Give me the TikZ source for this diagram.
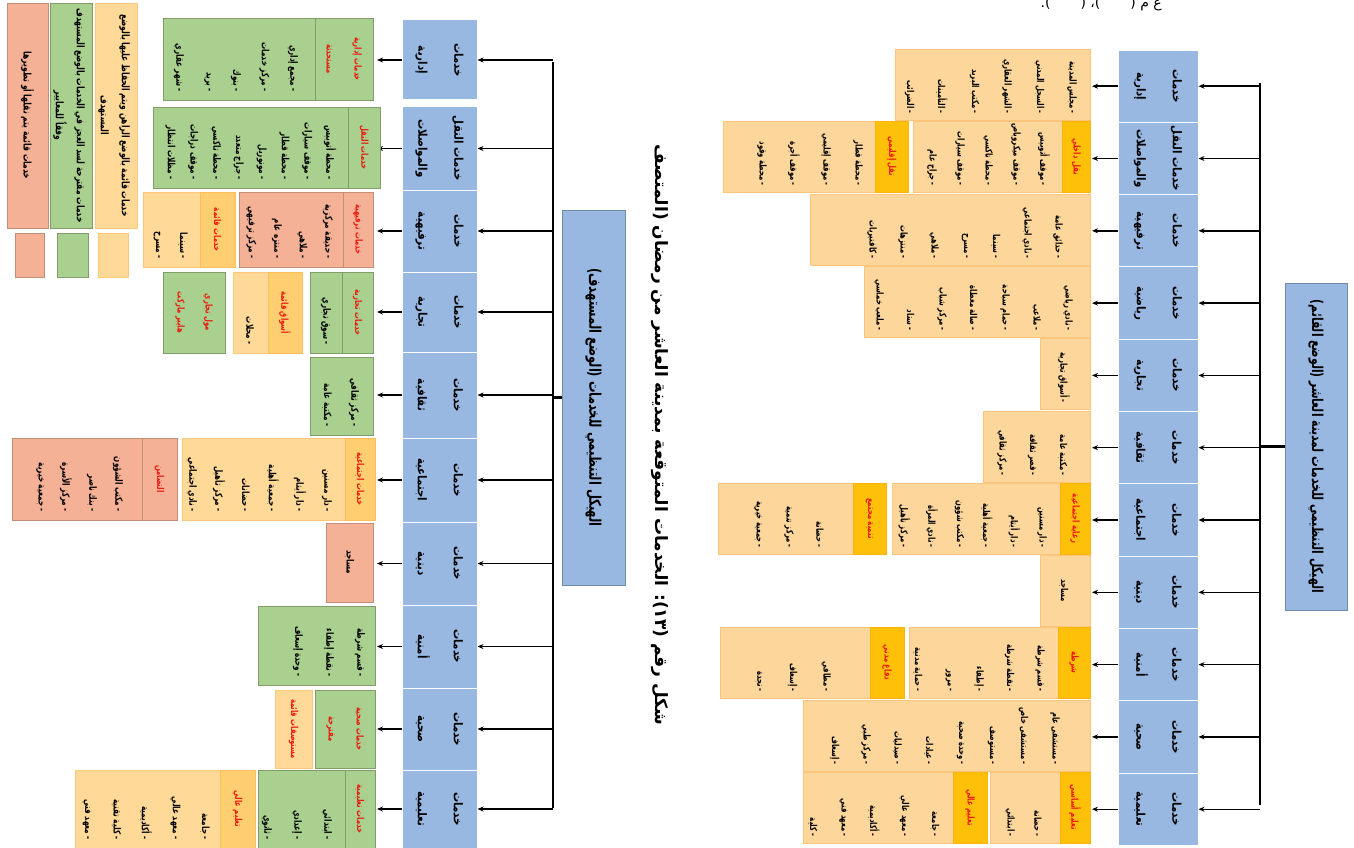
\documentclass[tikz,border=0pt]{standalone}
\usepackage{fontspec}
\usetikzlibrary{arrows.meta,positioning}
\newfontfamily\arabicfont[Script=Arabic,FakeStretch=0.85]{DejaVu Sans}
\newfontfamily\arabicnarrow[Script=Arabic,FakeStretch=0.72]{DejaVu Sans}
\newfontfamily\arabicplain[Script=Arabic]{DejaVu Sans}
\TeXXeTstate=1
\newcommand{\rl}[1]{\beginR#1\endR}

\definecolor{catblue}{RGB}{152,184,225}
\definecolor{exorange}{RGB}{252,214,155}
\definecolor{exhead}{RGB}{255,192,10}
\definecolor{tgreen}{RGB}{169,208,142}
\definecolor{tsalmon}{RGB}{244,177,150}
\definecolor{torange}{RGB}{255,217,152}
\definecolor{tohead}{RGB}{255,206,112}
\definecolor{redtxt}{RGB}{235,25,15}

\tikzset{
  catbox/.style={rotate=-90, fill=catblue, draw=white, line width=1pt, inner sep=0pt, align=center,
    font=\arabicfont\bfseries\fontsize{12}{36}\selectfont},
  titlebox/.style={rotate=-90, fill=catblue, draw=catblue!75!black, line width=0.4pt, inner sep=0pt,
    font=\arabicnarrow\bfseries\fontsize{15}{18}\selectfont},
  itm/.style={rotate=-90, anchor=east, inner sep=0pt, font=\arabicnarrow\bfseries\fontsize{9.5}{11}\selectfont},
  itmL/.style={itm, font=\arabicnarrow\bfseries\fontsize{10}{12}\selectfont},
  hdr/.style={rotate=-90, inner sep=0pt, align=center, text=redtxt,
    font=\arabicnarrow\bfseries\fontsize{9.5}{28}\selectfont},
  lgtext/.style={rotate=-90, inner sep=0pt, align=center, font=\arabicnarrow\bfseries\fontsize{10.5}{21}\selectfont},
  arr/.style={-{Stealth[length=6pt,width=5pt]}, line width=1.4pt},
  bus/.style={line width=2.8pt},
  exbox/.style={fill=exorange, draw=exorange!80!orange, line width=0.5pt},
  exhbox/.style={fill=exhead, draw=exhead!80!orange, line width=0.5pt},
  gbox/.style={fill=tgreen, draw=tgreen!75!black, line width=0.4pt},
  sbox/.style={fill=tsalmon, draw=tsalmon!80!black, line width=0.4pt},
  obox/.style={fill=torange, draw=torange!80!orange, line width=0.4pt},
  ohbox/.style={fill=tohead, draw=tohead!80!orange, line width=0.4pt},
}
\newcommand{\bx}[5]{\path[#1] (#2,#3) rectangle (#4,#5);}
\newcommand{\items}[6][itm]{\foreach \itx [count=\k] in {#6}{\node[#1] (#2\k) at ({#3-(\k-1)*#4},#5) {\itx};}}

\begin{document}
\begin{tikzpicture}[x=1pt, y=-1pt]
\useasboundingbox (0,0) rectangle (1354,848);

% line of page text above the figure (cut)
\node[anchor=base east, inner sep=0pt, font=\arabicplain\fontsize{14}{16}\selectfont] (frag) at (1162,8) {\rl{ع م (\hspace{30pt})، (\hspace{30pt}).}};

% ---- existing state (right tree) ----
\node[titlebox, minimum width=327, minimum height=62] (rtitle) at (1316,446.5) {\rl{الهيكل التنظيمي للخدمات لمدينة العاشر (الوضع القائم)}};
\coordinate (rbus) at (1260,83);
\coordinate (rbusE) at (1260,805);
\coordinate (rrow) at (1092,0);
\draw[bus] (rbus) -- (rbusE);
\draw[bus] (rtitle.south) -- (rtitle.south -| rbus);
\foreach \a/\b [count=\i] in {خدمات/إدارية, \rl{خدمات النقل}/والمواصلات, خدمات/ترفيهية, خدمات/رياضية, خدمات/تجارية, خدمات/ثقافية, خدمات/اجتماعية, خدمات/دينية, خدمات/أمنية, خدمات/صحية, خدمات/تعليمية}{
  \node[catbox, minimum width=72.3, minimum height=80] (rc\i) at (1158,{86.2+72.3*(\i-1)}) {\rl{\a}\\\rl{\b}};
  \draw[arr] (rbus |- rc\i) -- (rc\i.north);
  \draw[arr] (rc\i.south) -- (rc\i.south -| rrow);
}

% rows of the right tree
\bx{exbox}{895}{49}{1090}{120}
\items{r1i}{1072}{32.5}{114}{\rl{- مجلس المدينة}, \rl{- السجل المدني}, \rl{- الشهر العقاري}, \rl{- مكتب البريد}, \rl{- التأمينات}, \rl{- الضرائب}}

\bx{exbox}{913}{121}{1062}{192}
\bx{exhbox}{1062}{121}{1090}{192}
\node[hdr] (r2h) at (1076,156.5) {\rl{نقل داخلي}};
\items{r2i}{1044}{28}{186}{\rl{- موقف أتوبيس}, \rl{- موقف ميكروباص}, \rl{- محطة تاكسي}, \rl{- موقف سيارات}, \rl{- جراج عام}}
\bx{exbox}{723}{121}{875}{192}
\bx{exhbox}{875}{121}{908}{192}
\node[hdr] (r2k) at (891.5,156.5) {\rl{نقل إقليمي}};
\items{r2j}{858}{32}{186}{\rl{- محطة قطار}, \rl{- موقف إقليمي}, \rl{- موقف أجرة}, \rl{- محطة وقود}}

\bx{exbox}{810}{194}{1090}{265}
\items{r3i}{1058}{31}{259}{\rl{- حدائق عامة}, \rl{- نادي اجتماعي}, \rl{- سينما}, \rl{- مسرح}, \rl{- ملاهي}, \rl{- منتزهات}, \rl{- كافتيريات}}

\bx{exbox}{864}{266}{1090}{337}
\items{r4i}{1068}{31.5}{331}{\rl{- نادي رياضي}, \rl{- ملاعب}, \rl{- حمام سباحة}, \rl{- صالة مغطاة}, \rl{- مركز شباب}, \rl{- ستاد}, \rl{- ملعب خماسي}}

\bx{exbox}{1040}{338}{1090}{409}
\items{r5i}{1064}{0}{403}{\rl{- أسواق تجارية}}

\bx{exbox}{983}{411}{1090}{482}
\items{r6i}{1063}{30.5}{476}{\rl{- مكتبة عامة}, \rl{- قصر ثقافة}, \rl{- مركز ثقافي}}

\bx{exbox}{892}{483}{1060}{554}
\bx{exhbox}{1060}{483}{1090}{554}
\node[hdr] (r7h) at (1075,518.5) {\rl{رعاية اجتماعية}};
\items{r7i}{1042}{27.5}{548}{\rl{- دار مسنين}, \rl{- دار أيتام}, \rl{- جمعية أهلية}, \rl{- مكتب شؤون}, \rl{- نادي المرأة}, \rl{- مركز تأهيل}}
\bx{exbox}{718}{483}{853}{554}
\bx{exhbox}{853}{483}{886}{554}
\node[hdr] (r7k) at (869.5,518.5) {\rl{تنمية مجتمع}};
\items{r7j}{820}{31}{548}{\rl{- حضانة}, \rl{- مركز تنمية}, \rl{- جمعية خيرية}}

\bx{exbox}{1040}{555}{1090}{626}
\node[itm, anchor=center] (r8i) at (1064,590.5) {\rl{مساجد}};

\bx{exbox}{909}{627}{1058}{698}
\bx{exhbox}{1058}{627}{1090}{698}
\node[hdr] (r9h) at (1074,662.5) {\rl{شرطة}};
\items{r9i}{1040}{30.5}{692}{\rl{- قسم شرطة}, \rl{- نقطة شرطة}, \rl{- إطفاء}, \rl{- مرور}, \rl{- حماية مدنية}}
\bx{exbox}{720}{627}{870}{698}
\bx{exhbox}{870}{627}{904}{698}
\node[hdr] (r9k) at (887,662.5) {\rl{دفاع مدني}};
\items{r9j}{826}{33.5}{692}{\rl{- مطافي}, \rl{- إسعاف}, \rl{- نجدة}}

\bx{exbox}{803}{700}{1090}{771}
\items{r10i}{1055}{31.5}{765}{\rl{- مستشفى عام}, \rl{- مستشفى خاص}, \rl{- مستوصف}, \rl{- وحدة صحية}, \rl{- عيادات}, \rl{- صيدليات}, \rl{- مركز طبي}, \rl{- إسعاف}}

\bx{exbox}{990}{772}{1060}{843}
\bx{exhbox}{1060}{772}{1090}{843}
\node[hdr] (r11h) at (1075,807.5) {\rl{تعليم أساسي}};
\items{r11i}{1038}{28}{837}{\rl{- حضانة}, \rl{- ابتدائي}}
\bx{exbox}{803}{772}{953}{843}
\bx{exhbox}{953}{772}{987}{843}
\node[hdr] (r11k) at (970,807.5) {\rl{تعليم عالي}};
\items{r11j}{935}{30.5}{837}{\rl{- جامعة}, \rl{- معهد عالي}, \rl{- أكاديمية}, \rl{- معهد فني}, \rl{- كلية}}

% caption
\node[rotate=-90, inner sep=0pt, font=\arabicplain\bfseries\fontsize{17}{19}\selectfont] (cap) at (660,435) {\rl{شكل رقم (١٣): الخدمات المتوقعة بمدينة العاشر من رمضان (المتصف}};

% ---- target state (left tree) ----
\node[titlebox, minimum width=375, minimum height=63, font=\arabicnarrow\bfseries\fontsize{16}{18}\selectfont] (ltitle) at (593.5,397.5) {\rl{الهيكل التنظيمي للخدمات (الوضع المستهدف)}};
\coordinate (lbus) at (553,62);
\coordinate (lbusE) at (553,808);
\coordinate (lrow) at (377,0);
\draw[bus] (lbus) -- (lbusE);
\draw[bus] (ltitle.south) -- (ltitle.south -| lbus);
\foreach \ya/\yb/\a/\b [count=\i] in {20/100/خدمات/إدارية, 107/190/\rl{خدمات النقل}/والمواصلات, 190/272/خدمات/ترفيهية, 272/352/خدمات/تجارية, 352/438/خدمات/ثقافية, 438/522/خدمات/اجتماعية, 522/605/خدمات/دينية, 605/688/خدمات/أمنية, 688/770/خدمات/صحية, 770/848/خدمات/تعليمية}{
  \pgfmathsetmacro\hh{\yb-\ya}
  \node[catbox, minimum width=\hh, minimum height=75] (lc\i) at (439.5,{(\ya+\yb)/2}) {\rl{\a}\\\rl{\b}};
  \draw[arr] (lbus |- lc\i) -- (lc\i.north);
  \draw[arr] (lc\i.south) -- (lc\i.south -| lrow);
}

% rows of the left tree
\bx{gbox}{163}{18}{315}{100}
\bx{gbox}{315}{18}{373}{100}
\node[hdr] (l1h) at (344,59) {\rl{خدمات إدارية}\\\rl{مستحدثة}};
\items[itmL]{l1i}{293}{28.5}{92}{\rl{- مجمع إداري}, \rl{- مركز خدمات}, \rl{- بنوك}, \rl{- بريد}, \rl{- شهر عقاري}}

\bx{gbox}{153}{107}{348}{188}
\bx{gbox}{348}{107}{380}{188}
\node[hdr] (l2h) at (364,147.5) {\rl{خدمات النقل}};
\items[itmL]{l2i}{330}{22.8}{180}{\rl{- محطة أتوبيس}, \rl{- موقف سيارات}, \rl{- محطة قطار}, \rl{- مونوريل}, \rl{- جراج متعدد}, \rl{- محطة تاكسي}, \rl{- موقف دراجات}, \rl{- مظلات انتظار}}

\bx{sbox}{239}{192}{343}{267}
\bx{sbox}{343}{192}{373}{267}
\node[hdr] (l3h) at (358,229.5) {\rl{خدمات ترفيهية}};
\items[itmL]{l3i}{328}{25.5}{259}{\rl{- حديقة مركزية}, \rl{- ملاهي}, \rl{- منتزه عام}, \rl{- مركز ترفيهي}}
\bx{obox}{143}{192}{200}{267}
\bx{ohbox}{200}{192}{235}{267}
\node[hdr] (l3k) at (217.5,229.5) {\rl{خدمات قائمة}};
\items[itmL]{l3j}{183}{26}{259}{\rl{- سينما}, \rl{- مسرح}}

\bx{gbox}{310}{272}{342}{353}
\bx{gbox}{342}{272}{373}{353}
\node[hdr] (l4h) at (357.5,312.5) {\rl{خدمات تجارية}};
\items[itmL]{l4i}{326}{0}{345}{\rl{- سوق تجاري}}
\bx{obox}{233}{272}{268}{353}
\bx{ohbox}{268}{272}{302}{353}
\node[hdr] (l4k) at (285,312.5) {\rl{أسواق قائمة}};
\items[itmL]{l4j}{250}{0}{345}{\rl{- محلات}}
\bx{gbox}{163}{272}{225}{353}
\node[hdr] (l4m) at (194,312.5) {\rl{مول تجاري}\\\rl{هايبر ماركت}};

\bx{gbox}{310}{357}{373}{435}
\items[itmL]{l5i}{354}{27}{427}{\rl{- مركز ثقافي}, \rl{- مكتبة عامة}}

\bx{obox}{182}{438}{345}{520}
\bx{ohbox}{345}{438}{375}{520}
\node[hdr] (l6h) at (360,479) {\rl{خدمات اجتماعية}};
\items[itmL]{l6i}{327}{27}{512}{\rl{- دار مسنين}, \rl{- دار أيتام}, \rl{- جمعية أهلية}, \rl{- حضانات}, \rl{- مركز تأهيل}, \rl{- نادي اجتماعي}}
\bx{sbox}{12}{438}{142}{520}
\bx{sbox}{142}{438}{177}{520}
\node[hdr] (l6k) at (159.5,479) {\rl{التضامن}};
\items[itmL]{l6j}{118}{26}{512}{\rl{- مكتب الشؤون}, \rl{- بنك ناصر}, \rl{- مركز الأسرة}, \rl{- جمعية خيرية}}

\bx{sbox}{326}{523}{373}{602}
\node[itmL, anchor=center] (l7i) at (349.5,562.5) {\rl{مساجد}};

\bx{gbox}{258}{606}{375}{685}
\items[itmL]{l8i}{360}{31}{677}{\rl{- قسم شرطة}, \rl{- نقطة إطفاء}, \rl{- وحدة إسعاف}}

\bx{gbox}{315}{690}{375}{768}
\node[hdr] (l9h) at (345,729) {\rl{خدمات صحية}\\\rl{مقترحة}};
\bx{obox}{275}{690}{312}{768}
\node[hdr] (l9k) at (293.5,729) {\rl{مستوصفات قائمة}};

\bx{gbox}{258}{770}{345}{848}
\bx{gbox}{345}{770}{375}{848}
\node[hdr] (l10h) at (360,809) {\rl{خدمات تعليمية}};
\items[itmL]{l10i}{327}{30}{840}{\rl{- ابتدائي}, \rl{- إعدادي}, \rl{- ثانوي}}
\bx{obox}{75}{770}{220}{848}
\bx{ohbox}{220}{770}{255}{848}
\node[hdr] (l10k) at (237.5,809) {\rl{تعليم عالي}};
\items[itmL]{l10j}{205}{29.5}{840}{\rl{- جامعة}, \rl{- معهد عالي}, \rl{- أكاديمية}, \rl{- كلية تقنية}, \rl{- معهد فني}}

% legend
\bx{sbox}{7}{3}{48}{228}
\bx{gbox}{50}{3}{92}{228}
\bx{obox}{95}{3}{137}{228}
\bx{sbox}{15}{233}{44}{277}
\bx{gbox}{57}{233}{88}{277}
\bx{obox}{98}{233}{128}{277}
\node[lgtext] (lgO) at (114,115.5) {\rl{خدمات قائمة بالوضع الراهن ويتم الحفاظ عليها بالوضع}\\\rl{المستهدف}};
\node[lgtext] (lgG) at (69,115.5) {\rl{خدمات مقترحة لسد العجز في الخدمات بالوضع المستهدف}\\\rl{وفقاً للمعايير}};
\node[lgtext] (lgS) at (27.5,115.5) {\rl{خدمات قائمة يتم نقلها أو تطويرها}};
\end{tikzpicture}
\end{document}
